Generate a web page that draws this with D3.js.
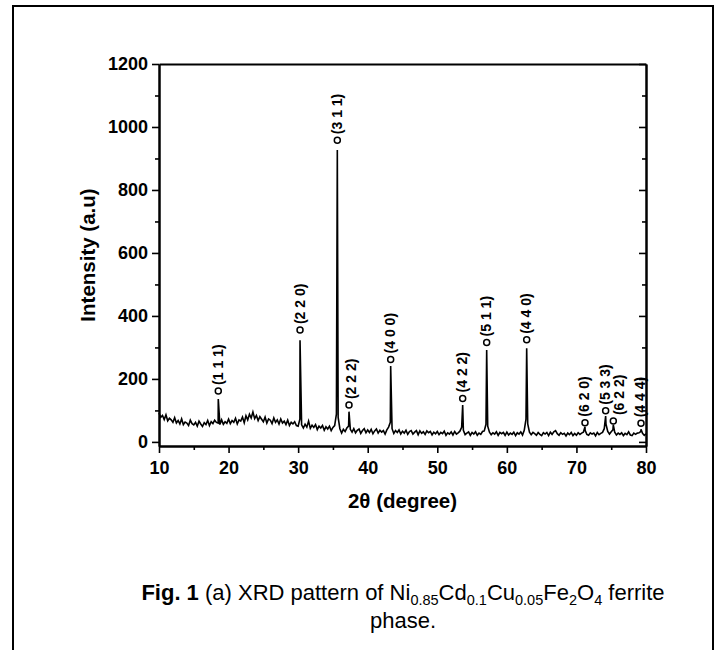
<!DOCTYPE html>
<html>
<head>
<meta charset="utf-8">
<script src="https://cdn.jsdelivr.net/npm/d3@7"></script>
<style>
  body { margin: 0; background: #fff; }
  svg { display: block; }
</style>
</head>
<body>
<svg id="fig" width="717" height="650"></svg>
<script>
// XRD scan, 2θ from 10° to 80° in 0.25° steps (intensity in a.u.)
const scanStart = 10;
const scanStep = 0.25;
const scan10 = [92, 78, 84, 71, 86, 67, 75, 70, 62, 77,
                60, 68, 57, 73, 55, 63, 60, 52, 69, 58,
                54, 62, 50, 66, 57, 49, 61, 55, 68, 52,
                64, 58, 69, 62, 60, 55, 70, 56, 64, 59];
const scan20 = [72, 58, 68, 62, 75, 57, 70, 66, 79, 61,
                83, 70, 88, 76, 95, 74, 84, 68, 80, 72,
                64, 79, 60, 73, 69, 58, 76, 62, 70, 57,
                73, 60, 66, 55, 69, 52, 62, 57, 64, 52];
const scan30 = [50, 72, 54, 44, 56, 47, 66, 43, 53, 46,
                55, 39, 50, 44, 52, 37, 48, 41, 50, 36,
                46, 52, 88, 78, 42, 28, 40, 33, 44, 50,
                40, 31, 42, 29, 37, 41, 27, 36, 42, 29];
const scan40 = [38, 30, 40, 26, 35, 41, 28, 37, 31, 36,
                25, 38, 47, 62, 42, 27, 36, 30, 38, 25,
                34, 28, 37, 24, 33, 36, 25, 31, 36, 23,
                35, 27, 32, 24, 35, 29, 33, 22, 31, 26];
const scan50 = [33, 23, 30, 26, 34, 21, 29, 25, 32, 22,
                33, 25, 29, 34, 46, 37, 23, 28, 32, 21,
                30, 25, 32, 21, 28, 24, 33, 35, 56, 50,
                31, 23, 29, 25, 32, 21, 30, 26, 30, 21];
const scan60 = [31, 22, 28, 24, 31, 20, 29, 25, 32, 22,
                37, 72, 57, 31, 23, 30, 26, 21, 30, 24,
                20, 29, 25, 30, 20, 31, 24, 32, 36, 26,
                21, 29, 24, 27, 19, 28, 23, 30, 20, 27];
const scan70 = [21, 29, 24, 28, 31, 37, 24, 21, 29, 25,
                28, 19, 30, 23, 27, 30, 42, 56, 33, 25,
                32, 39, 31, 22, 28, 24, 29, 20, 27, 23,
                32, 22, 20, 28, 24, 28, 29, 33, 27, 21,
                26];

// Indexed reflections of the spinel ferrite
const peakTwoTheta   = [18.52, 30.27, 35.63, 37.31, 43.3, 53.65, 57.1, 62.85, 71.23, 74.2, 75.3, 79.28];
const peakIntensity  = [136, 323, 927, 96, 241, 117, 292, 297, 48, 82, 54, 40];
const peakHkl        = ["(1 1 1)", "(2 2 0)", "(3 1 1)", "(2 2 2)", "(4 0 0)", "(4 2 2)",
                        "(5 1 1)", "(4 4 0)", "(6 2 0)", "(5 3 3)", "(6 2 2)", "(4 4 4)"];
const markerIntensity = [162, 355, 958, 117, 262, 138, 316, 324, 61, 99, 66, 59];

// Axis ticks
const xTickValues  = [10, 20, 30, 40, 50, 60, 70, 80];
const xMinorValues = [15, 25, 35, 45, 55, 65, 75];
const yTickValues  = [0, 200, 400, 600, 800, 1000, 1200];
const yMinorValues = [100, 300, 500, 700, 900, 1100];

const svg = d3.select("#fig");
const FONT = "'Liberation Sans', Arial, Helvetica, sans-serif";

// outer frame of the figure panel (open at the bottom)
svg.append("path")
  .attr("d", "M13,650 V6 H713 V650")
  .attr("fill", "none")
  .attr("stroke", "#000")
  .attr("stroke-width", 2);

const x = d3.scaleLinear().domain([10, 80]).range([159, 646]);
const y = d3.scaleLinear().domain([-13, 1200]).range([446, 64]);

// diffraction profile: scan points plus the peak maxima, ordered by 2θ
const scanValues = [].concat(scan10, scan20, scan30, scan40, scan50, scan60, scan70);
const profile = scanValues.map((v, i) => [scanStart + i * scanStep, v])
  .concat(peakTwoTheta.map((t, i) => [t, peakIntensity[i]]))
  .sort((a, b) => a[0] - b[0]);

svg.append("path")
  .datum(profile)
  .attr("fill", "none")
  .attr("stroke", "#000")
  .attr("stroke-width", 1.6)
  .attr("stroke-linejoin", "miter")
  .attr("d", d3.line().x(d => x(d[0])).y(d => y(d[1])));

function styleAxis(g) {
  g.select(".domain").attr("stroke-width", 2).attr("stroke", "#000");
  g.selectAll(".tick line").attr("stroke-width", 1.6).attr("stroke", "#000");
  g.selectAll(".tick text")
    .attr("font-family", FONT)
    .attr("font-weight", "bold")
    .attr("font-size", 18)
    .attr("fill", "#000");
}

// bottom axis
svg.append("g").attr("transform", `translate(0,${y.range()[0]})`)
  .call(d3.axisBottom(x).tickValues(xTickValues).tickFormat(d3.format("d"))
    .tickSize(7).tickSizeOuter(0).tickPadding(8))
  .call(styleAxis);
svg.append("g").attr("transform", `translate(0,${y.range()[0]})`)
  .call(d3.axisBottom(x).tickValues(xMinorValues).tickSize(4).tickSizeOuter(0).tickFormat(""))
  .call(styleAxis);

// left axis
svg.append("g").attr("transform", `translate(${x.range()[0]},0)`)
  .call(d3.axisLeft(y).tickValues(yTickValues).tickFormat(d3.format("d"))
    .tickSize(7).tickSizeOuter(0).tickPadding(4))
  .call(styleAxis);
svg.append("g").attr("transform", `translate(${x.range()[0]},0)`)
  .call(d3.axisLeft(y).tickValues(yMinorValues).tickSize(4).tickSizeOuter(0).tickFormat(""))
  .call(styleAxis);

// top axis
svg.append("g").attr("transform", `translate(0,${y.range()[1]})`)
  .call(d3.axisBottom(x).tickValues([]).tickSizeOuter(0))
  .call(styleAxis);

// right axis, ticks pointing inward
svg.append("g").attr("transform", `translate(${x.range()[1]},0)`)
  .call(d3.axisLeft(y).tickValues(yTickValues).tickSize(7).tickSizeOuter(0).tickFormat(""))
  .call(styleAxis);
svg.append("g").attr("transform", `translate(${x.range()[1]},0)`)
  .call(d3.axisLeft(y).tickValues(yMinorValues).tickSize(4).tickSizeOuter(0).tickFormat(""))
  .call(styleAxis);

// axis titles
svg.append("text")
  .attr("x", (x.range()[0] + x.range()[1]) / 2)
  .attr("y", 508)
  .attr("text-anchor", "middle")
  .attr("font-family", FONT)
  .attr("font-weight", "bold")
  .attr("font-size", 20.5)
  .text("2θ (degree)");

svg.append("text")
  .attr("transform", `translate(95,${(y.range()[0] + y.range()[1]) / 2}) rotate(-90)`)
  .attr("text-anchor", "middle")
  .attr("font-family", FONT)
  .attr("font-weight", "bold")
  .attr("font-size", 20.5)
  .text("Intensity (a.u)");

// reflection markers and Miller indices; a label that would overlap
// its left neighbour is moved a little to the right
const marks = svg.append("g");
let lastLabelX = -Infinity;
peakHkl.forEach((hkl, i) => {
  const cx = x(peakTwoTheta[i]);
  const cy = y(markerIntensity[i]);
  const tx = Math.max(cx + 4.5, lastLabelX + 14);
  lastLabelX = tx;
  marks.append("circle")
    .attr("cx", cx).attr("cy", cy).attr("r", 3)
    .attr("fill", "#fff").attr("stroke", "#000").attr("stroke-width", 1.5);
  marks.append("text")
    .attr("transform", `translate(${tx},${cy - 6}) rotate(-90)`)
    .attr("font-family", FONT)
    .attr("font-weight", "bold")
    .attr("font-size", 14)
    .text(hkl);
});

// figure caption
const cap = svg.append("text")
  .attr("x", 403).attr("y", 600)
  .attr("text-anchor", "middle")
  .attr("font-family", FONT)
  .attr("font-size", 22);
cap.append("tspan").attr("font-weight", "bold").text("Fig. 1");
cap.append("tspan").text(" (a) XRD pattern of Ni");
const parts = [["0.85", "Cd"], ["0.1", "Cu"], ["0.05", "Fe"], ["2", "O"], ["4", " ferrite"]];
parts.forEach(([sub, next]) => {
  cap.append("tspan").attr("dy", 5).attr("font-size", 14.5).text(sub);
  cap.append("tspan").attr("dy", -5).text(next);
});
svg.append("text")
  .attr("x", 403).attr("y", 628)
  .attr("text-anchor", "middle")
  .attr("font-family", FONT)
  .attr("font-size", 22)
  .text("phase.");
</script>
</body>
</html>
